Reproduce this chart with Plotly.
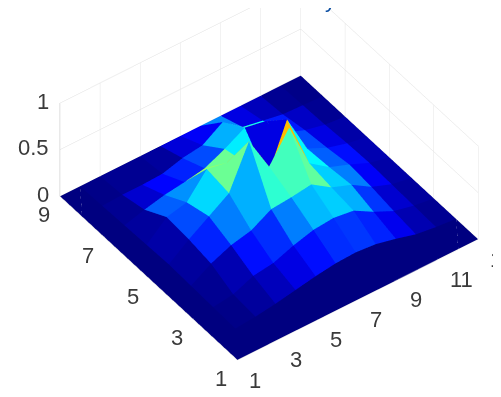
import plotly.graph_objects as go

x_vals = list(range(1, 14))
y_vals = list(range(1, 10))
z_rows = [
    [0, 0, 0, 0, 0, 0, 0, 0, 0, 0, 0, 0, 0],
    [0, .01, .03, .06, .10, .14, .17, .18, .16, .11, .05, .02, 0],
    [0, .02, .05, .14, .17, .25, .31, .33, .30, .18, .08, .03, 0],
    [0, .03, .16, .25, .30, .42, .44, .47, .33, .25, .12, .04, 0],
    [0, .04, .20, .34, .48, .93, .55, .86, .37, .22, .14, .05, 0],
    [0, .03, .22, .27, .52, .48, .36, .10, .62, .20, .10, .04, 0],
    [0, .02, .08, .13, .16, .20, .30, .42, .38, .15, .07, .02, 0],
    [0, .01, .02, .02, .03, .09, .12, .26, .10, .06, .02, .01, 0],
    [0, 0, 0, 0, 0, 0, 0, 0, 0, 0, 0, 0, 0],
]
jet = [[0, "rgb(0,0,128)"], [.125, "rgb(0,0,255)"], [.375, "rgb(0,255,255)"],
       [.625, "rgb(255,255,0)"], [1, "rgb(255,150,0)"]]
x_ticks = [1, 3, 5, 7, 9, 11, 13]
y_ticks = [1, 3, 5, 7, 9]
z_ticks = [0, 0.5, 1]
title_fragment = "y"

nx, ny = len(x_vals), len(y_vals)
vx, vy, vz, ti, tj, tk, cell = [], [], [], [], [], [], []
for r, row in enumerate(z_rows):
    for c, v in enumerate(row):
        vx.append(x_vals[c]); vy.append(y_vals[r]); vz.append(v)
for r in range(ny - 1):
    for c in range(nx - 1):
        a = r * nx + c
        b, d, e = a + 1, a + nx, a + nx + 1
        ti += [a, a]; tj += [b, e]; tk += [e, d]
        cell += [z_rows[r][c]] * 2

fig = go.Figure(go.Mesh3d(
    x=vx, y=vy, z=vz, i=ti, j=tj, k=tk, intensity=cell, intensitymode="cell",
    colorscale=jet, cmin=0, cmax=1, showscale=False, flatshading=True,
    lighting=dict(ambient=1, diffuse=0, specular=0, roughness=1, fresnel=0),
    hoverinfo="skip"))

font = dict(family="Liberation Sans", size=22, color="#3a3a3a")
axis = dict(showbackground=False, gridcolor="#dedede", gridwidth=1, showline=False,
            zeroline=False, title=dict(text=""), showticklabels=False, showspikes=False,
            tickmode="array", ticks="")
notes = []
for t in z_ticks:
    notes.append(dict(x=1, y=9, z=t, text=f"{t:g}", showarrow=False, font=font,
                      xanchor="right", yanchor="middle", xshift=-9, yshift=2))
for t in y_ticks:
    notes.append(dict(x=1, y=t, z=0, text=str(t), showarrow=False, font=font,
                      xanchor="center", yanchor="middle", xshift=-16, yshift=-18))
for t in x_ticks:
    notes.append(dict(x=t, y=1, z=0, text=str(t), showarrow=False, font=font,
                      xanchor="left", yanchor="middle", xshift=10, yshift=-20))
S = 1.507
C = dict(x=-.115, y=-.066, z=-.130)
fig.update_layout(
    width=501, height=397, margin=dict(l=0, r=0, t=0, b=0), paper_bgcolor="white",
    showlegend=False,
    annotations=[dict(xref="paper", yref="paper", x=322 / 501, y=1, yshift=-6,
                      xanchor="center", yanchor="bottom", showarrow=False,
                      text=title_fragment, font=dict(family="Liberation Sans", size=22, color="#0b4ea2"))],
    scene=dict(
        domain=dict(x=[0, 1], y=[0, 1]),
        aspectmode="manual", aspectratio=dict(x=S, y=S, z=0.425 * S),
        camera=dict(projection=dict(type="orthographic"),
                    center=C,
                    eye=dict(x=-0.87 + C["x"], y=-1.18 + C["y"], z=1.36 + C["z"]),
                    up=dict(x=0, y=0, z=1)),
        xaxis=dict(axis, range=[1, 13], tickvals=x_ticks),
        yaxis=dict(axis, range=[1, 9], tickvals=y_ticks),
        zaxis=dict(axis, range=[0, 1], tickvals=z_ticks, showline=True, linecolor="#aaaaaa"),
        annotations=notes,
    ))
fig.write_html("out.html")
